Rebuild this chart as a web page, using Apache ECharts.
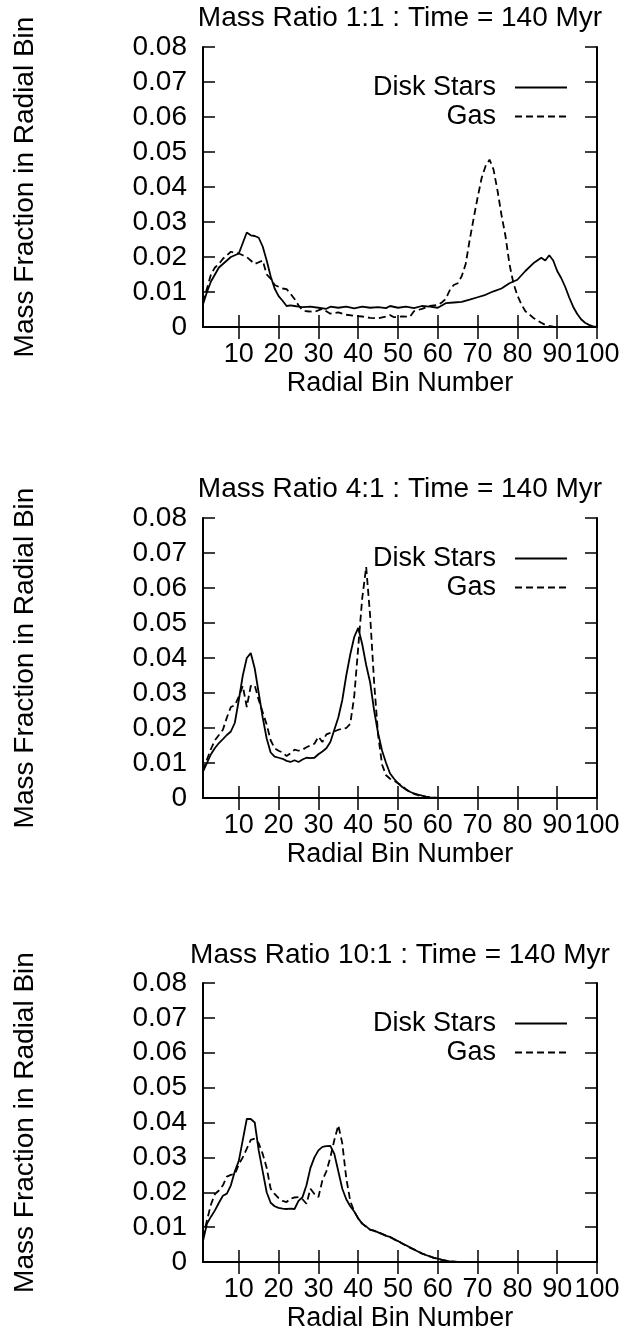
<!DOCTYPE html>
<html>
<head>
<meta charset="utf-8">
<script src="https://cdn.jsdelivr.net/npm/echarts@6/dist/echarts.min.js"></script>
<style>
html,body{margin:0;padding:0;background:#fff;}
#c{width:632px;height:1331px;}
</style>
</head>
<body>
<div id="c"></div>
<script>
// ---------- Data ----------
const titles = ['Mass Ratio 1:1 : Time = 140 Myr', 'Mass Ratio 4:1 : Time = 140 Myr', 'Mass Ratio 10:1 : Time = 140 Myr'];
const seriesNames = ['Disk Stars', 'Gas'];
const xTickValues = [10, 20, 30, 40, 50, 60, 70, 80, 90, 100];
const yTickValues = [0, 0.01, 0.02, 0.03, 0.04, 0.05, 0.06, 0.07, 0.08];

// Panel 1 (1:1)
const p1StarsBins = [1,2,3,4,5,6,7,8,9,10,11,12,13,14,15,16,17,18,19,20,21,22,23,24,25,26,
  28,30,32,33,35,37,39,41,43,45,47,48,50,52,54,56,58,60,
  62,64,66,68,70,72,74,76,78,80,82,84,86,
  87,88,89,90,91,92,93,94,95,96,97,98,99,100];
const p1Stars = [.0065,.010,.013,.015,.017,.018,.019,.020,.0205,.021,.024,.027,.0262,.026,.0255,.023,.019,.0145,.011,.0088,.0075,.006,.0062,.006,.0058,.0057,
  .0058,.0055,.0052,.0058,.0055,.0058,.0053,.0058,.0055,.0057,.0054,.006,.0055,.0058,.0054,.006,.0058,.0055,
  .0068,.007,.0072,.0078,.0085,.0092,.0102,.011,.0125,.0135,.016,.0182,.0198,
  .019,.0205,.019,.016,.014,.0115,.0085,.0058,.0038,.0022,.0012,.0006,.0002,.0001];
const p1GasBins = [1,2,3,4,5,6,7,8,9,10,11,12,13,14,15,16,17,18,19,20,21,22,23,24,25,26,
  27,29,31,33,35,37,39,41,43,45,47,48,49,51,53,54,56,58,60,
  61,62,63,64,65,66,67,68,69,70,71,72,73,74,75,76,77,78,79,80,81,82,83,84,85,86,87,88,89,90];
const p1Gas = [.007,.011,.015,.017,.018,.0195,.0205,.0215,.0212,.021,.0205,.020,.019,.018,.0185,.019,.015,.0138,.012,.0115,.011,.0108,.0095,.008,.0062,.0048,
  .0045,.0043,.0052,.0038,.0042,.0035,.0032,.003,.0026,.0025,.003,.0034,.0028,.003,.0029,.0045,.0052,.006,.0063,
  .007,.008,.0105,.012,.0125,.0145,.018,.0248,.031,.037,.0425,.046,.0478,.045,.039,.032,.026,.018,.0125,.009,.0065,.0045,.0036,.0026,.0019,.0012,.0006,.0003,.0001,0];

// Panel 2 (4:1)
const p2StarsBins = [1,2,3,4,5,6,7,8,9,10,11,12,13,14,15,16,17,18,19,20,21,22,23,24,25,26,27,28,29,30,
  31,32,33,34,35,36,37,38,39,40,41,42,43,44,45,46,47,48,49,50,51,52,53,54,55,56,57,58,60];
const p2Stars = [.0075,.010,.0125,.0143,.0157,.0168,.018,.019,.0215,.028,.035,.040,.0414,.037,.030,.023,.017,.013,.0118,.0115,
  .0112,.0106,.0103,.0108,.0103,.011,.0115,.0114,.0115,.0125,
  .0133,.0142,.016,.0195,.023,.028,.035,.041,.046,.0486,.044,.038,.033,.025,.0185,.0135,.010,.007,.0055,.0042,
  .0032,.0024,.0018,.0013,.001,.0007,.0004,.0002,0];
const p2GasBins = [1,2,3,4,5,6,7,8,9,10,11,12,13,14,15,16,17,18,19,20,21,22,23,24,25,26,27,28,29,30,
  31,32,33,34,35,36,37,38,39,40,41,42,43,44,45,46,47,48,49,50,51,52,53,54,55,56,58,60];
const p2Gas = [.0078,.011,.014,.0165,.018,.0195,.023,.026,.0265,.029,.032,.026,.032,.0322,.028,.0245,.021,.0165,.0142,.0135,
  .013,.012,.0128,.0138,.0135,.0138,.0145,.015,.0155,.0175,
  .016,.0182,.0186,.019,.0195,.0198,.020,.0212,.029,.043,.057,.066,.052,.033,.018,.0095,.0065,.0055,.005,.0042,
  .0035,.0025,.0017,.0012,.0008,.0005,.0002,0];

// Panel 3 (10:1)
const p3StarsBins = [1,2,3,4,5,6,7,8,9,10,11,12,13,14,15,16,17,18,19,20,21,22,23,24,25,26,27,28,29,30,
  31,32,33,34,35,36,37,38,39,40,41,42,43,44,45,46,47,48,49,50,51,52,53,54,55,56,57,58,59,60,61,62,63,65];
const p3Stars = [.006,.011,.013,.0148,.017,.019,.0196,.022,.026,.029,.035,.041,.041,.040,.032,.026,.020,.017,.016,.0155,
  .0153,.0152,.0153,.0152,.0175,.0186,.022,.027,.030,.032,
  .033,.0332,.0333,.031,.026,.021,.018,.016,.0145,.0125,.011,.0102,.0092,.009,.0085,.008,.0075,.0072,.0065,.006,
  .0053,.0048,.0042,.0036,.003,.0024,.002,.0016,.0012,.001,.0006,.0004,.0002,0];
const p3GasBins = p3StarsBins.slice();
const p3Gas = [.007,.012,.0165,.0195,.0205,.022,.0245,.025,.0252,.028,.030,.0325,.035,.0354,.034,.031,.027,.021,.0195,.0183,
  .0175,.0172,.0182,.0185,.0186,.018,.0167,.021,.0195,.0186,
  .0234,.026,.030,.035,.0392,.034,.024,.0175,.0145,.0125,.011,.0101,.0093,.0089,.0085,.0081,.0076,.0071,.0066,.006,
  .0054,.0047,.0041,.0036,.0031,.0025,.002,.0016,.0012,.0009,.0006,.0004,.0002,0];

const panels = [
  {title: titles[0], stars: [p1StarsBins, p1Stars], gas: [p1GasBins, p1Gas]},
  {title: titles[1], stars: [p2StarsBins, p2Stars], gas: [p2GasBins, p2Gas]},
  {title: titles[2], stars: [p3StarsBins, p3Stars], gas: [p3GasBins, p3Gas]}
];

// ---------- Layout ----------
const FONT = "'Liberation Sans', Arial, Helvetica, sans-serif";
const gridTops = [47, 518, 983];
const gridH = [280, 280, 279];
const gridLeft = 203, gridW = 394;
const titleTops = [4, 475, 941];

const zip = (a, b) => a.map((x, i) => [x, b[i]]);

const option = {
  backgroundColor: '#fff',
  animation: false,
  textStyle: {fontFamily: FONT, color: '#000'},
  title: [], grid: [], xAxis: [], yAxis: [], series: [], legend: []
};

const tickStyle = {show: true, inside: true, length: 12, lineStyle: {color: '#000', width: 1.5}};
const lineAx = {show: true, lineStyle: {color: '#000', width: 2}};

panels.forEach((p, i) => {
  option.title.push({
    text: p.title, left: gridLeft + gridW / 2, top: titleTops[i], textAlign: 'center', padding: 0,
    textStyle: {fontFamily: FONT, fontSize: 28, fontWeight: 'normal', color: '#000'}
  });
  option.grid.push({left: gridLeft, top: gridTops[i], width: gridW, height: gridH[i], outerBoundsMode: 'none'});
  // bottom x
  option.xAxis.push({
    type: 'value', gridIndex: i, position: 'bottom', min: 1, max: 100,
    name: 'Radial Bin Number', nameLocation: 'middle', nameGap: 43,
    nameTextStyle: {fontFamily: FONT, fontSize: 27, color: '#000'},
    axisLine: lineAx,
    axisTick: Object.assign({customValues: xTickValues}, tickStyle),
    axisLabel: {customValues: xTickValues, fontFamily: FONT, fontSize: 27, color: '#000', margin: 14},
    splitLine: {show: false}
  });
  // top x (mirror)
  option.xAxis.push({
    type: 'value', gridIndex: i, position: 'top', min: 1, max: 100,
    axisLine: lineAx,
    axisTick: Object.assign({customValues: xTickValues}, tickStyle),
    axisLabel: {show: false}, splitLine: {show: false}
  });
  // left y
  option.yAxis.push({
    type: 'value', gridIndex: i, position: 'left', min: 0, max: 0.08, interval: 0.01,
    name: 'Mass Fraction in Radial Bin', nameLocation: 'middle', nameGap: 164, nameRotate: 90,
    nameTextStyle: {fontFamily: FONT, fontSize: 28, color: '#000'},
    axisLine: lineAx, axisTick: tickStyle,
    axisLabel: {fontFamily: FONT, fontSize: 28, color: '#000', margin: 16,
      formatter: v => (Math.abs(v) < 1e-9 ? '0' : v.toFixed(2))},
    splitLine: {show: false}
  });
  // right y (mirror)
  option.yAxis.push({
    type: 'value', gridIndex: i, position: 'right', min: 0, max: 0.08, interval: 0.01,
    axisLine: lineAx, axisTick: tickStyle,
    axisLabel: {show: false}, splitLine: {show: false}
  });
  option.series.push({
    type: 'line', name: seriesNames[0], xAxisIndex: 2 * i, yAxisIndex: 2 * i,
    data: zip(p.stars[0], p.stars[1]), symbol: 'none', smooth: false,
    lineStyle: {color: '#000', width: 1.8, type: 'solid'}, itemStyle: {color: '#000'}
  });
  option.series.push({
    type: 'line', name: seriesNames[1], xAxisIndex: 2 * i, yAxisIndex: 2 * i,
    data: zip(p.gas[0], p.gas[1]), symbol: 'none', smooth: false,
    lineStyle: {color: '#000', width: 1.8, type: [7, 4]}, itemStyle: {color: '#000'}
  });
  [27, 56].forEach((off, k) => {
    option.legend.push({
      data: [seriesNames[k]], right: 64, top: gridTops[i] + off, orient: 'horizontal', align: 'right',
      padding: 0, itemWidth: 52, itemHeight: 14, selectedMode: false,
      itemStyle: {color: 'rgba(0,0,0,0)', borderColor: 'rgba(0,0,0,0)', borderWidth: 0, opacity: 0},
      textStyle: {fontFamily: FONT, fontSize: 27, color: '#000', padding: [0, 14, 0, 0]}
    });
  });
});

const chart = echarts.init(document.getElementById('c'), null, {renderer: 'canvas'});
chart.setOption(option);
</script>
</body>
</html>
